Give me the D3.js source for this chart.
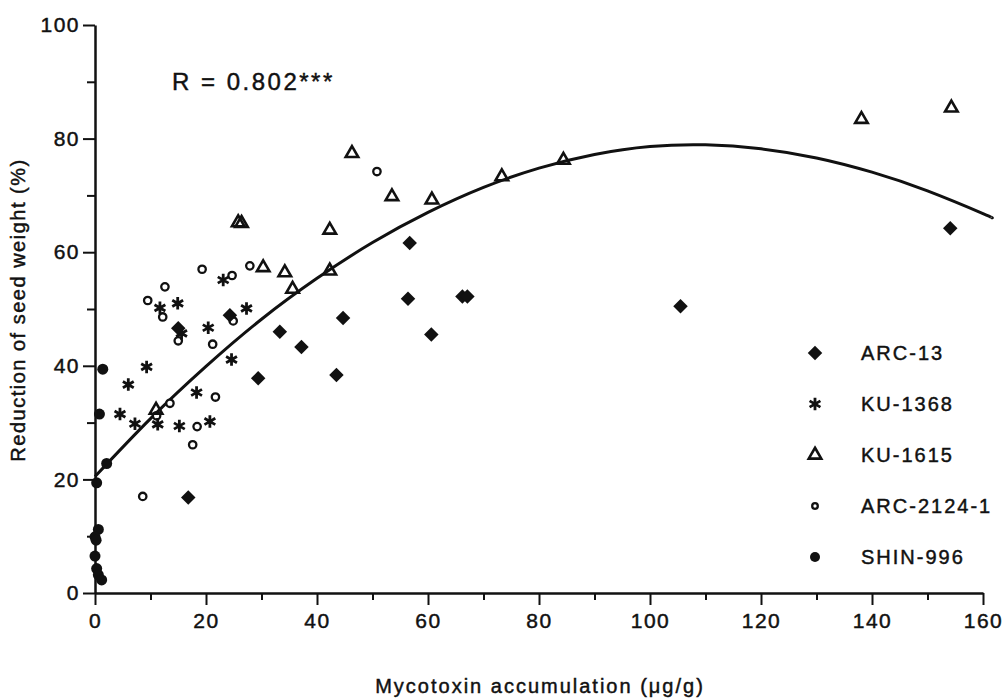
<!DOCTYPE html>
<html>
<head>
<meta charset="utf-8">
<script src="https://cdnjs.cloudflare.com/ajax/libs/d3/7.8.5/d3.min.js"></script>
<style>
  body { margin:0; background:#fff; }
  text { font-family: "Liberation Sans", Arial, sans-serif; fill:#111; stroke:#111; stroke-width:0.45px; }
</style>
</head>
<body>
<div id="chart"></div>
<script>
!(function(){
    "use strict"

    // values
    var arc13 = [[15.0,46.6],[16.8,16.8],[24.3,48.9],[29.4,37.8],[33.3,46.0],[37.2,43.3],[43.5,38.4],[44.7,48.4],
                 [56.4,51.8],[56.7,61.6],[60.6,45.5],[66.2,52.2],[67.1,52.2],[105.5,50.5],[154.1,64.2]]
    var ku1368 = [[23.1,55.1],[11.7,50.2],[14.9,51.0],[27.3,50.1],[20.4,46.7],[15.6,45.7],[9.3,39.8],[6.0,36.7],
                  [24.6,41.1],[4.5,31.5],[7.2,29.8],[11.3,29.7],[15.2,29.4],[18.3,35.3],[20.7,30.2]]
    var ku1615 = [[11.0,32.2],[25.8,65.2],[26.4,65.1],[30.3,57.3],[34.2,56.4],[35.6,53.5],[42.3,63.9],[42.3,56.7],
                  [46.3,77.4],[53.5,69.8],[60.7,69.2],[73.3,73.3],[84.4,76.2],[138.1,83.4],[154.3,85.4]]
    var arc2124 = [[50.8,74.2],[27.9,57.6],[24.7,55.9],[19.3,57.0],[12.6,53.9],[9.5,51.5],[12.2,48.6],[24.9,47.9],
                   [15.0,44.4],[21.2,43.8],[13.5,33.4],[21.7,34.5],[18.4,29.3],[17.6,26.1],[11.1,31.2],[8.6,17.0]]
    var shin996 = [[1.4,39.4],[0.8,31.5],[2.1,22.8],[0.3,19.4],[0.6,11.2],[0,9.9],[0.2,9.3],[0,6.5],
                   [0.3,4.3],[0.6,3.2],[1.2,2.3]]

    // regression curve, sampled from the figure
    var fitX = [0,10,20,30,40,50,60,70,80,90,100,110,120,130,140,150,160,161.5]
    var fitY = [20.5,30.7,39.9,48.2,55.4,61.7,67.0,71.4,74.8,77.2,78.6,78.9,78.2,76.6,74.1,70.8,66.8,66.1]

    var xTicks = [0,20,40,60,80,100,120,140,160]
    var xMinor = [10,30,50,70,90,110,130,150]
    var yTicks = [0,20,40,60,80,100]
    var yMinor = [10,30,50,70,90]

    var legendNames = ["ARC-13","KU-1368","KU-1615","ARC-2124-1","SHIN-996"]

    var width = 1007, height = 698
    var svg = d3.select("#chart").append("svg").attr("width", width).attr("height", height)

    var x = d3.scaleLinear().domain([0,160]).range([95,983])
    var y = d3.scaleLinear().domain([0,100]).range([593,25])

    // minor ticks first, then the main axes
    svg.append("g")
        .attr("transform", "translate(0,593)")
        .call(d3.axisBottom(x).tickValues(xMinor).tickSize(7).tickFormat(""))
        .call(function(g){ g.select(".domain").remove() })
    svg.append("g")
        .attr("transform", "translate(95,0)")
        .call(d3.axisLeft(y).tickValues(yMinor).tickSize(8).tickFormat(""))
        .call(function(g){ g.select(".domain").remove() })

    svg.append("g")
        .attr("transform", "translate(0,593)")
        .call(d3.axisBottom(x).tickValues(xTicks).tickSize(12).tickSizeOuter(0).tickPadding(8))
    svg.append("g")
        .attr("transform", "translate(95,0)")
        .call(d3.axisLeft(y).tickValues(yTicks).tickSize(12).tickSizeOuter(0).tickPadding(3))

    svg.selectAll(".tick line").attr("stroke", "#111").attr("stroke-width", 2)
    svg.selectAll(".domain").attr("stroke", "#111").attr("stroke-width", 2.5)
    svg.selectAll(".tick text")
        .style("font-size", "21px")
        .style("letter-spacing", "1.5px")
        .attr("fill", "#111")

    // fitted curve
    var fit = fitX.map(function(d, i){ return [d, fitY[i]] })
    svg.append("path")
        .datum(fit)
        .attr("fill", "none")
        .attr("stroke", "#111")
        .attr("stroke-width", 3)
        .attr("d", d3.line()
            .x(function(d){ return x(d[0]) })
            .y(function(d){ return y(d[1]) })
            .curve(d3.curveNatural))

    // marker styles
    var diamond = d3.symbol().type(d3.symbolSquare).size(105)
    var star = d3.symbol().type(d3.symbolAsterisk).size(110)
    var tri = d3.symbol().type(d3.symbolTriangle).size(68)

    function drawSeries(data, kind, sz) {
        var g = svg.append("g")
        var pts = g.selectAll("g").data(data).enter().append("g")
            .attr("transform", function(d){ return "translate(" + x(d[0]) + "," + y(d[1]) + ")" })
        addMark(pts, kind, sz)
    }

    function addMark(sel, kind, sz) {
        if (kind == "diamond") {
            sel.append("path").attr("d", diamond()).attr("transform", "rotate(45)").attr("fill", "#111")
        } else if (kind == "star") {
            sel.append("path").attr("d", star()).attr("stroke", "#111").attr("stroke-width", 2.8).attr("fill", "none")
        } else if (kind == "tri") {
            sel.append("path").attr("d", tri()).attr("stroke", "#111").attr("stroke-width", 2.6).attr("fill", "none")
        } else if (kind == "ring") {
            sel.append("circle").attr("r", sz || 3.7).attr("stroke", "#111").attr("stroke-width", 2.3).attr("fill", "#fff")
        } else {
            sel.append("circle").attr("r", sz || 5.5).attr("fill", "#111")
        }
    }

    drawSeries(arc2124, "ring")
    drawSeries(ku1368, "star")
    drawSeries(ku1615, "tri")
    drawSeries(arc13, "diamond")
    drawSeries(shin996, "dot")

    // legend
    var kinds = ["diamond","star","tri","ring","dot"]
    var legendY = d3.scalePoint().domain(legendNames).range([353,557])
    var leg = svg.append("g").selectAll("g").data(legendNames).enter().append("g")
        .attr("transform", function(d){ return "translate(815," + legendY(d) + ")" })
    leg.each(function(d, i){
        addMark(d3.select(this), kinds[i], i == 3 ? 2.8 : 5)
    })
    leg.append("text")
        .attr("x", 46)
        .attr("dy", "0.35em")
        .style("font-size", "20px")
        .style("letter-spacing", "2px")
        .text(function(d){ return d })

    // R annotation
    svg.append("text")
        .attr("x", 172).attr("y", 90)
        .style("font-size", "24px")
        .style("letter-spacing", "2.5px")
        .text("R = 0.802***")

    // axis titles
    svg.append("text")
        .attr("text-anchor", "middle")
        .attr("transform", "translate(25,310) rotate(-90)")
        .style("font-size", "20px")
        .style("letter-spacing", "1.5px")
        .text("Reduction of seed weight (%)")

    svg.append("text")
        .attr("text-anchor", "middle")
        .attr("x", 540).attr("y", 693)
        .style("font-size", "20px")
        .style("letter-spacing", "2px")
        .text("Mycotoxin accumulation (\u03bcg/g)")
}());
</script>
</body>
</html>
